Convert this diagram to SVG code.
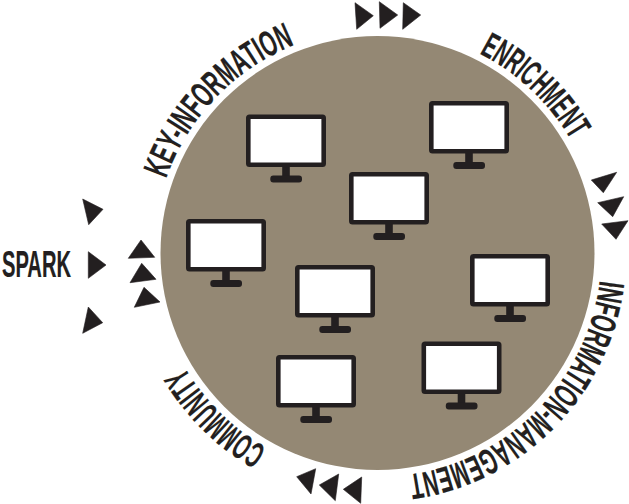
<svg xmlns="http://www.w3.org/2000/svg" xmlns:xlink="http://www.w3.org/1999/xlink" width="629" height="504" viewBox="0 0 629 504">
<style>
.t{font-family:"Liberation Sans",Arial,sans-serif;font-weight:700;font-size:36px;fill:#231f20;stroke:#231f20;stroke-width:.2}
.a{fill:#231f20;stroke:#231f20;stroke-width:.6;stroke-linejoin:round}
.s{fill:#fff;stroke:#231f20;stroke-width:4.6}
.d{fill:#231f20}
</style>
<defs>
<path id="ring" d="M377.5 29A224 224 0 1 1 377.4 29"/>
<g id="mon">
<rect class="s" x="2.3" y="2.3" width="75.4" height="48" rx="1.2"/>
<rect class="d" x="36.2" y="52" width="7.6" height="10"/>
<rect class="d" x="24.3" y="61" width="31.7" height="7" rx="3"/>
</g>
</defs>
<rect width="629" height="504" fill="#fff"/>
<circle id="disc" cx="377.5" cy="253" r="217" fill="#948874"/>
<g id="monitor-1"><use href="#mon" x="246" y="114.5"/></g>
<g id="monitor-2"><use href="#mon" x="429" y="101"/></g>
<g id="monitor-3"><use href="#mon" x="349" y="172"/></g>
<g id="monitor-4"><use href="#mon" x="186" y="219"/></g>
<g id="monitor-5"><use href="#mon" x="470" y="254"/></g>
<g id="monitor-6"><use href="#mon" x="295" y="265"/></g>
<g id="monitor-7"><use href="#mon" x="421.5" y="341.5"/></g>
<g id="monitor-8"><use href="#mon" x="276" y="355"/></g>
<g id="labels">
<text id="spark" class="t" x="2" y="277" textLength="69" lengthAdjust="spacingAndGlyphs">SPARK</text>
<text id="key-information" class="t" textLength="191" lengthAdjust="spacingAndGlyphs"><textPath href="#ring" startOffset="1130.6">KEY-INFORMATION</textPath></text>
<text id="enrichment" class="t" textLength="127.5" lengthAdjust="spacingAndGlyphs"><textPath href="#ring" startOffset="105.6">ENRICHMENT</textPath></text>
<text id="information-management" class="t" textLength="293" lengthAdjust="spacingAndGlyphs"><textPath href="#ring" startOffset="379">INFORMATION-MANAGEMENT</textPath></text>
<text id="community" class="t" textLength="117" lengthAdjust="spacingAndGlyphs"><textPath href="#ring" startOffset="818.7">COMMUNITY</textPath></text>
</g>
<g id="connectors">
<polygon class="a" points="82.7,199 103,209.3 88.7,224.7"/>
<polygon class="a" points="88.3,251.7 106,265 88.3,278.3"/>
<polygon class="a" points="88.3,307 102.7,322.7 82.7,333.3"/>
<polygon class="a" points="141,240 154.7,257.3 128.3,258.3"/>
<polygon class="a" points="141.7,263.3 156,279.3 130,282.7"/>
<polygon class="a" points="144,287.3 160,302 134.3,307.3"/>
<polygon class="a" points="355,2.7 373.3,15.7 356.7,29.3"/>
<polygon class="a" points="379.3,1.7 397.7,15 380,28.3"/>
<polygon class="a" points="403.3,2.7 420.7,15 402.7,29.3"/>
<polygon class="a" points="591.3,180 616.7,172.3 603.3,192.7"/>
<polygon class="a" points="597.7,202.7 623.7,196.7 612.7,216.7"/>
<polygon class="a" points="601.7,224 628,220.7 616,239.3"/>
<polygon class="a" points="296.7,476.7 315.7,468.7 311,494"/>
<polygon class="a" points="319.3,485 338.7,474 335.3,500.7"/>
<polygon class="a" points="343.3,489.3 361.7,477 360.7,503.3"/>
</g>
</svg>
